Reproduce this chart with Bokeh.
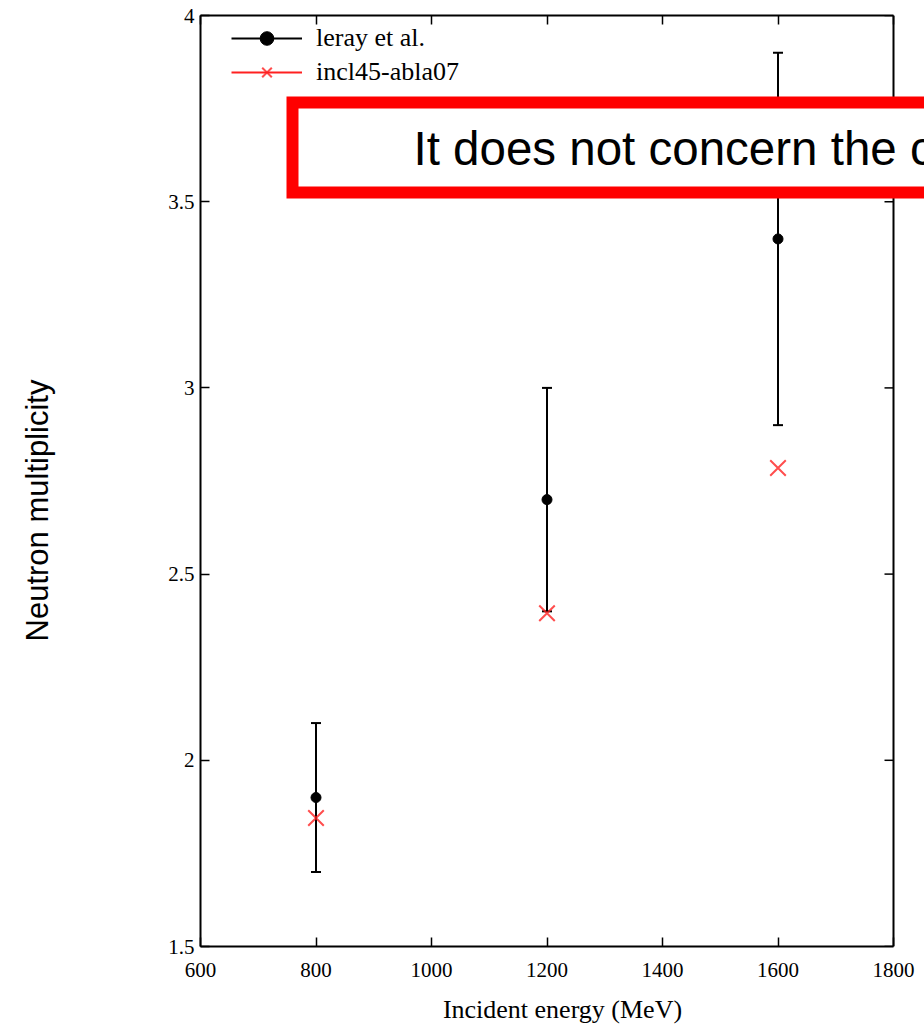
import math
from bokeh.plotting import figure
from bokeh.layouts import row
from bokeh.models import (ColumnDataSource, FixedTicker, LinearAxis, Legend, LegendItem,
                          BoxAnnotation, Label, Range1d, Span)
from bokeh.embed import file_html
from bokeh.resources import INLINE

# Neutron multiplicity vs incident energy
energy = [800, 1200, 1600]
leray_mult = [1.9, 2.7, 3.4]
leray_low = [1.7, 2.4, 2.9]
leray_high = [2.1, 3.0, 3.9]
incl_mult = [1.845, 2.395, 2.785]

x_ticks = [600, 800, 1000, 1200, 1400, 1600, 1800]
y_ticks = [1.5, 2, 2.5, 3, 3.5, 4]
y_tick_labels = ["1.5", "2", "2.5", "3", "3.5", "4"]

SERIF = "Liberation Serif"
SANS = "Liberation Sans"

HEIGHT = 1029
TITLE_W = 70                       # strip holding the vertical axis title
PLOT_W = 924 - TITLE_W
FRAME_LEFT = 200 - TITLE_W         # left edge of the axes box inside the main figure
AXES_RIGHT = 893 - TITLE_W
FRAME_TOP, FRAME_BOTTOM = 15, 946

# the frame runs to the right edge of the canvas so the callout can spill past the axes box
x_lo, x_hi = x_ticks[0], x_ticks[-1]
mev_per_px = (x_hi - x_lo) / (AXES_RIGHT - FRAME_LEFT)
x_end = x_lo + (PLOT_W - FRAME_LEFT) * mev_per_px
TICK_LEN = 9

src = ColumnDataSource(dict(energy=energy, mult=leray_mult, low=leray_low,
                            high=leray_high, incl=incl_mult))

p = figure(width=PLOT_W, height=HEIGHT, output_backend="svg", toolbar_location=None,
           x_range=Range1d(x_lo, x_end), y_range=Range1d(y_ticks[0], y_ticks[-1]),
           min_border_left=FRAME_LEFT, min_border_right=0, min_border_top=FRAME_TOP,
           min_border_bottom=HEIGHT - FRAME_BOTTOM, x_axis_label="Incident energy (MeV)")
p.xgrid.visible = False
p.ygrid.visible = False
p.outline_line_color = None
p.background_fill_color = "white"
p.border_fill_color = "white"

p.add_layout(LinearAxis(), "above")

bottom_ax = p.below[0]
top_ax = p.above[0]
left_ax = p.left[0]

for ax in (bottom_ax, top_ax):
    ax.ticker = FixedTicker(ticks=x_ticks)
    ax.bounds = (x_lo, x_hi)
left_ax.ticker = FixedTicker(ticks=y_ticks)
left_ax.major_label_overrides = {t: s for t, s in zip(y_ticks, y_tick_labels)}

for ax in (bottom_ax, top_ax, left_ax):
    ax.axis_line_width = 2
    ax.axis_line_color = "black"
    ax.major_tick_in = TICK_LEN
    ax.major_tick_out = 0
    ax.major_tick_line_width = 1.5
    ax.minor_tick_line_color = None
    ax.major_label_text_font = SERIF
    ax.major_label_text_font_size = "21px"
    ax.major_label_text_color = "black"

top_ax.major_label_text_font_size = "0px"
bottom_ax.major_label_standoff = 16
left_ax.major_label_standoff = 6

bottom_ax.axis_label_text_font = SERIF
bottom_ax.axis_label_text_font_size = "26px"
bottom_ax.axis_label_text_font_style = "normal"
bottom_ax.axis_label_text_color = "black"
bottom_ax.axis_label_standoff = 15

# right-hand border with inward ticks
p.add_layout(Span(location=x_hi, dimension="height", line_color="black", line_width=2))
p.segment(x0=[x_hi] * len(y_ticks), y0=y_ticks,
          x1=[x_hi - TICK_LEN * mev_per_px] * len(y_ticks), y1=y_ticks,
          line_color="black", line_width=1.5)

# error bars with end caps
bars = p.segment(x0="energy", y0="low", x1="energy", y1="high", source=src,
                 line_color="black", line_width=2)
p.scatter(x="energy", y="high", source=src, marker="dash", size=10,
          line_color="black", line_width=2)
p.scatter(x="energy", y="low", source=src, marker="dash", size=10,
          line_color="black", line_width=2)
dots = p.scatter(x="energy", y="mult", source=src, marker="circle", size=10,
                 fill_color="black", line_color="black")
crosses = p.scatter(x="energy", y="incl", source=src, marker="x", size=22,
                    line_color="#ff2020", line_width=2, line_alpha=0.8)
nan = float("nan")
red_bar = p.segment(x0=[nan], y0=[nan], x1=[nan], y1=[nan],
                    line_color="#ff2020", line_width=2)

legend = Legend(items=[
    LegendItem(label="leray et al.", renderers=[bars, dots]),
    LegendItem(label="incl45-abla07", renderers=[red_bar, crosses]),
], location=(31, 857), orientation="vertical")
legend.glyph_width = 71
legend.glyph_height = 34
legend.spacing = 0
legend.padding = 0
legend.margin = 0
legend.label_standoff = 14
legend.label_text_font = SERIF
legend.label_text_font_size = "26px"
legend.label_text_color = "black"
legend.background_fill_alpha = 0
legend.border_line_color = None
p.add_layout(legend)

# red callout box
p.add_layout(BoxAnnotation(left=292 - TITLE_W, right=990, top=102, bottom=192,
                           left_units="canvas", right_units="canvas",
                           top_units="canvas", bottom_units="canvas",
                           fill_color="white", fill_alpha=1.0,
                           line_color="#ff0000", line_alpha=1.0, line_width=12,
                           line_join="miter", level="overlay"))
p.add_layout(Label(x=413 - TITLE_W, y=148, x_units="canvas", y_units="canvas",
                   text="It does not concern the c",
                   text_baseline="alphabetic", text_align="left",
                   text_font=SANS, text_font_size="47.5px", text_color="black",
                   level="overlay"))

# vertical axis title in its own narrow strip
t = figure(width=TITLE_W, height=HEIGHT, output_backend="svg", toolbar_location=None,
           x_range=Range1d(0, 1), y_range=Range1d(0, 1),
           min_border=0, x_axis_type=None, y_axis_type=None)
t.xgrid.visible = False
t.ygrid.visible = False
t.outline_line_color = None
t.border_fill_color = "white"
t.add_layout(Label(x=37, y=436, x_units="screen", y_units="screen",
                   text="Neutron multiplicity", angle=math.pi / 2,
                   text_align="center", text_baseline="middle",
                   text_font=SANS, text_font_size="31px", text_color="black"))

layout = row(t, p, spacing=0)
open("out.html", "w").write(file_html(layout, INLINE))
